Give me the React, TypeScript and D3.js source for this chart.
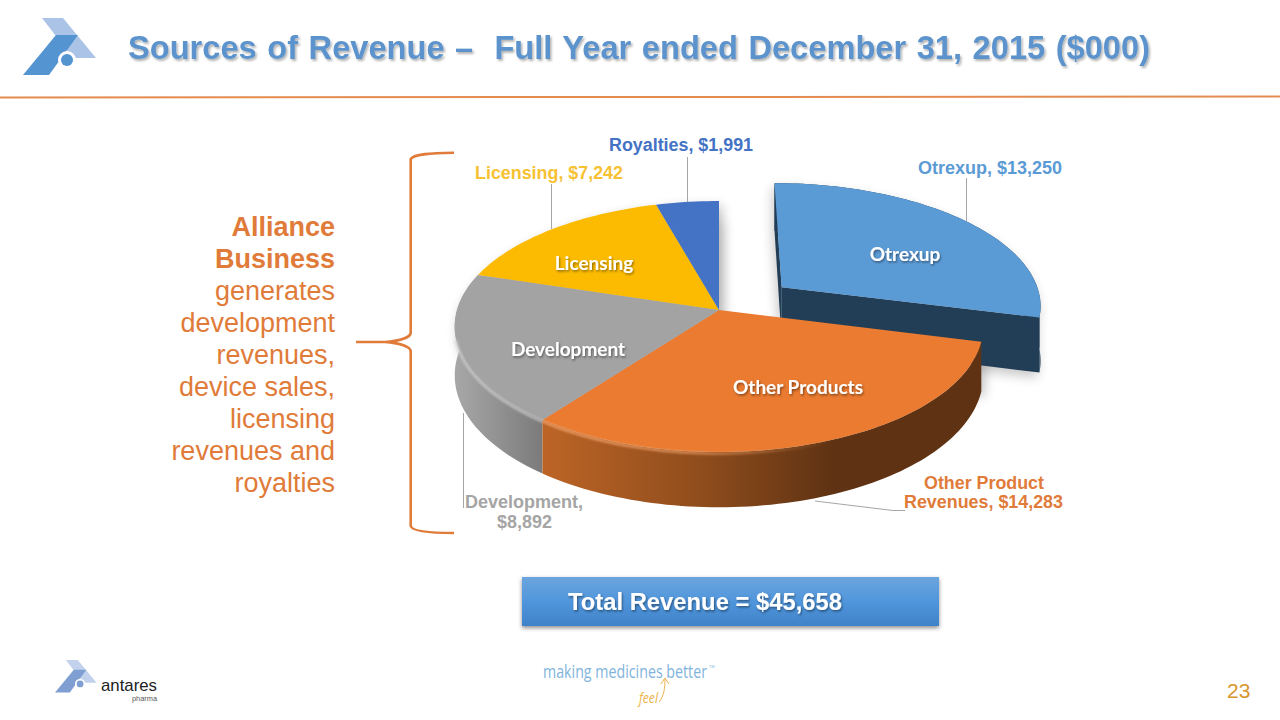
import * as d3 from "d3";

const CATEGORIES = ["Otrexup", "Other Products", "Development", "Licensing", "Royalties"];
const VALUES = [13250, 14283, 8892, 7242, 1991];
const SLICE_LABELS = ["Otrexup", "Other Products", "Development", "Licensing"];
const TOP_COLORS = ["#5B9BD5", "#EA7B30", "#A3A3A3", "#FCBB00", "#4472C4"];
const SIDE_TEXT = ["generates", "development", "revenues,", "device sales,", "licensing", "revenues and", "royalties"];

// perspective disc: u right, v towards the viewer
const CX = 719, CY = 310, RX = 262, RY = 123.3, P = 0.1315, DEPTH = 48, EXPLODE = 0.31;
const sans = "'Liberation Sans', Arial, sans-serif";

const project = (u: number, v: number, z = 0): [number, number] => {
  const s = 1 / (1 - P * v);
  return [CX + RX * u * s, CY + RY * v * s + z * DEPTH * s];
};

const line = d3.line<[number, number]>();

function rim(a0: number, a1: number, ox: number, oy: number, z = 0) {
  const n = Math.max(2, Math.ceil(Math.abs(a1 - a0) * 40));
  return d3.range(n + 1).map((i) => {
    const a = a0 + ((a1 - a0) * i) / n;
    return project(ox + Math.sin(a), oy - Math.cos(a), z);
  });
}

const arcs = d3.pie<number>().sort(null).startAngle(0).endAngle(Math.PI * 2)(VALUES);

function Logo({ x, y, k, dark, light }: { x: number; y: number; k: number; dark: string; light: string }) {
  return (
    <g transform={`translate(${x},${y}) scale(${k})`}>
      <path d="M19,0 L40,0 L73,40 L50,40 Z" fill={light} />
      <path d="M0,57 L26,57 L55,17 L33,17 Z" fill={dark} />
      <circle cx="44" cy="42" r="9" fill="#fff" />
      <circle cx="44" cy="42" r="6" fill={dark} />
    </g>
  );
}

export default function App() {
  const [ex, ey] = (() => {
    const mid = (arcs[0].startAngle + arcs[0].endAngle) / 2;
    return [Math.sin(mid) * EXPLODE, -Math.cos(mid) * EXPLODE];
  })();

  const wedge = (i: number, ox = 0, oy = 0, z = 0) => {
    const a = arcs[i];
    return (line([project(ox, oy, z), ...rim(a.startAngle, a.endAngle, ox, oy, z)]) as string) + "Z";
  };
  const outerWall = (i: number, ox = 0, oy = 0, z = 1) => {
    const a = arcs[i];
    return (
      (line([...rim(a.startAngle, a.endAngle, ox, oy), ...rim(a.startAngle, a.endAngle, ox, oy, z).reverse()]) as string) + "Z"
    );
  };
  const cutWall = (angle: number, ox: number, oy: number, z = 1) => {
    const p = [ox + Math.sin(angle), oy - Math.cos(angle)];
    return (line([project(ox, oy), project(p[0], p[1]), project(p[0], p[1], z), project(ox, oy, z)]) as string) + "Z";
  };

  const a0 = arcs[0];
  const silhouette = arcs.slice(1).map((_, i) => wedge(i + 1, 0, 0, 1) + outerWall(i + 1)).join("");
  const EXZ = 1.14;

  return (
    <svg width={1280} height={720} style={{ position: "absolute", left: 0, top: 0, background: "#fff" }}>
      <defs>
        <filter id="soft" x="-20%" y="-20%" width="140%" height="140%">
          <feGaussianBlur stdDeviation="6" />
        </filter>
        <filter id="glow" x="-10%" y="-10%" width="120%" height="120%">
          <feGaussianBlur stdDeviation="1.3" />
        </filter>
        <filter id="txt" x="-10%" y="-30%" width="120%" height="170%">
          <feDropShadow dx="1" dy="1.5" stdDeviation="1" floodColor="#000" floodOpacity="0.45" />
        </filter>
        <filter id="titleShadow" x="-5%" y="-30%" width="110%" height="170%">
          <feDropShadow dx="1.5" dy="2" stdDeviation="1.2" floodColor="#000" floodOpacity="0.3" />
        </filter>
        <filter id="boxShadow" x="-5%" y="-20%" width="110%" height="150%">
          <feDropShadow dx="0" dy="2" stdDeviation="2" floodColor="#000" floodOpacity="0.45" />
        </filter>
        <linearGradient id="orangeSide" gradientUnits="userSpaceOnUse" x1="545" x2="835" y1="0" y2="0">
          <stop offset="0" stopColor="#BC6426" />
          <stop offset="0.55" stopColor="#8E4C1C" />
          <stop offset="1" stopColor="#5E3213" />
        </linearGradient>
        <linearGradient id="greySide" gradientUnits="userSpaceOnUse" x1="454" x2="548" y1="0" y2="0">
          <stop offset="0" stopColor="#A8A8A8" />
          <stop offset="1" stopColor="#787878" />
        </linearGradient>
        <linearGradient id="orangeRim" gradientUnits="userSpaceOnUse" x1="545" x2="830" y1="0" y2="0">
          <stop offset="0" stopColor="#F3A26A" stopOpacity="0.9" />
          <stop offset="0.5" stopColor="#F3A26A" stopOpacity="0.75" />
          <stop offset="1" stopColor="#F3A26A" stopOpacity="0" />
        </linearGradient>
        <linearGradient id="boxFill" x1="0" x2="0" y1="0" y2="1">
          <stop offset="0" stopColor="#6CA5DE" />
          <stop offset="0.5" stopColor="#5096DC" />
          <stop offset="1" stopColor="#3F82C8" />
        </linearGradient>
      </defs>

      {/* header */}
      <Logo x={23} y={18} k={1} dark="#5394D1" light="#ABC3E6" />
      <text
        x={128}
        y={59}
        textLength={1022}
        lengthAdjust="spacingAndGlyphs"
        xmlSpace="preserve"
        wordSpacing={1.5}
        fontFamily={sans}
        fontWeight="bold"
        fontSize={32.5}
        fill="#5B93CC"
        filter="url(#titleShadow)"
      >
        Sources of Revenue –  Full Year ended December 31, 2015 ($000)
      </text>
      <line x1={0} x2={1280} y1={97.5} y2={96.5} stroke="#E58B50" strokeWidth={2} />

      {/* left note with brace */}
      <g fontFamily={sans} fontSize={27} fill="#E07B39" textAnchor="end">
        <text x={335} y={236} fontWeight="bold">Alliance</text>
        <text x={335} y={268} fontWeight="bold">Business</text>
        {SIDE_TEXT.map((t, i) => (
          <text key={t} x={335} y={300 + i * 32}>{t}</text>
        ))}
      </g>
      <path
        d="M454,152.7 C430,153 414,154 410.7,159 L410.7,333 C410,338 398,341 385,342 H356 M385,342 C398,343 410,346 410.7,351 L410.7,526 C412,531 430,533 454,533"
        fill="none"
        stroke="#E07B39"
        strokeWidth={2.6}
      />

      {/* soft shadows */}
      <path d={silhouette} fill="#000" opacity={0.26} filter="url(#soft)" transform="translate(3,5)" />
      <path d={wedge(0, ex, ey, EXZ) + outerWall(0, ex, ey, EXZ)} fill="#000" opacity={0.22} filter="url(#soft)" transform="translate(-2,5)" />
      <path d={wedge(4)} fill="#000" opacity={0.1} filter="url(#soft)" transform="translate(6,22)" />

      {/* exploded slice */}
      <path d={cutWall(a0.startAngle, ex, ey, EXZ)} fill="#223D56" />
      <path d={cutWall(a0.endAngle, ex, ey, EXZ)} fill="#223D56" />
      <path d={outerWall(0, ex, ey, EXZ)} fill="#223D56" />
      <path d={wedge(0, ex, ey)} fill={TOP_COLORS[0]} />

      {/* main body */}
      <path d={outerWall(2)} fill="url(#greySide)" />
      <path d={outerWall(1)} fill="url(#orangeSide)" />
      {arcs.map((_, i) => i > 0 && <path key={CATEGORIES[i]} d={wedge(i)} fill={TOP_COLORS[i]} />)}
      <path
        d={line(rim(arcs[1].startAngle + 0.9, arcs[1].endAngle, 0, 0).map(([x, y]) => [x, y + 1.5])) as string}
        fill="none"
        stroke="url(#orangeRim)"
        strokeWidth={2.5}
        filter="url(#glow)"
      />
      <path
        d={line(rim(arcs[2].startAngle, arcs[2].startAngle + 0.7, 0, 0).map(([x, y]) => [x, y + 1.5])) as string}
        fill="none"
        stroke="#CFCFCF"
        strokeWidth={2.5}
        opacity={0.8}
        filter="url(#glow)"
      />

      {/* slice names */}
      <g fontFamily="Lato, sans-serif" fontWeight="bold" fontSize={19} fill="#fff" textAnchor="middle" filter="url(#txt)">
        <text x={905} y={261}>{SLICE_LABELS[0]}</text>
        <text x={798} y={394}>{SLICE_LABELS[1]}</text>
        <text x={568} y={356}>{SLICE_LABELS[2]}</text>
        <text x={594} y={270}>{SLICE_LABELS[3]}</text>
      </g>

      {/* leaders */}
      <g stroke="#A6A6A6" strokeWidth={1} fill="none">
        <path d="M687.5,157 V202" />
        <path d="M551.5,184 V229" />
        <path d="M966.5,178 V221" />
        <path d="M463.5,413 V508" />
        <path d="M815,501 L893,510.5 H905" />
      </g>

      {/* data labels */}
      <g fontFamily={sans} fontWeight="bold" fontSize={17.5}>
        <text x={609} y={151} textLength={144} lengthAdjust="spacingAndGlyphs" fill="#4472C4">Royalties, $1,991</text>
        <text x={475} y={179} textLength={148} lengthAdjust="spacingAndGlyphs" fill="#F6C133">Licensing, $7,242</text>
        <text x={918} y={174} textLength={144} lengthAdjust="spacingAndGlyphs" fill="#5B9BD5">Otrexup, $13,250</text>
        <text x={465} y={508} textLength={118} lengthAdjust="spacingAndGlyphs" fill="#A5A5A5">Development,</text>
        <text x={497} y={528} textLength={55} lengthAdjust="spacingAndGlyphs" fill="#A5A5A5">$8,892</text>
        <text x={924} y={489} textLength={120} lengthAdjust="spacingAndGlyphs" fill="#E07B39">Other Product</text>
        <text x={904} y={508} textLength={159} lengthAdjust="spacingAndGlyphs" fill="#E07B39">Revenues, $14,283</text>
      </g>

      {/* total box */}
      <rect x={522} y={577} width={417} height={49} fill="url(#boxFill)" filter="url(#boxShadow)" />
      <text x={568} y={610} textLength={274} lengthAdjust="spacingAndGlyphs" fontFamily={sans} fontWeight="bold" fontSize={23.5} fill="#fff" filter="url(#txt)">
        Total Revenue = $45,658
      </text>

      {/* footer */}
      <Logo x={55} y={660} k={0.57} dark="#7F9FD2" light="#C3D2EC" />
      <text x={101} y={691} textLength={56} lengthAdjust="spacingAndGlyphs" fontFamily={sans} fontSize={17} fill="#222">antares</text>
      <text x={132} y={701} textLength={25} lengthAdjust="spacingAndGlyphs" fontFamily={sans} fontSize={6.5} fill="#555">pharma</text>
      <text x={543} y={678} textLength={164} lengthAdjust="spacingAndGlyphs" fontFamily="'Open Sans', sans-serif" fontSize={18} fill="#7FB4DC">making medicines better</text>
      <text x={709} y={668} fontFamily="'Open Sans', sans-serif" fontSize={4} fill="#7FB4DC">TM</text>
      <text x={639} y={703} textLength={19} lengthAdjust="spacingAndGlyphs" fontFamily="'Open Sans', sans-serif" fontStyle="italic" fontSize={15} fill="#EDB24C">feel</text>
      <path d="M659,702 C664,696 665,688 665,679 M661,684 L665,678 L669,684" fill="none" stroke="#EDB24C" strokeWidth={1} />
      <text x={1227} y={698} fontFamily={sans} fontSize={21} fill="#D8952F">23</text>
    </svg>
  );
}
